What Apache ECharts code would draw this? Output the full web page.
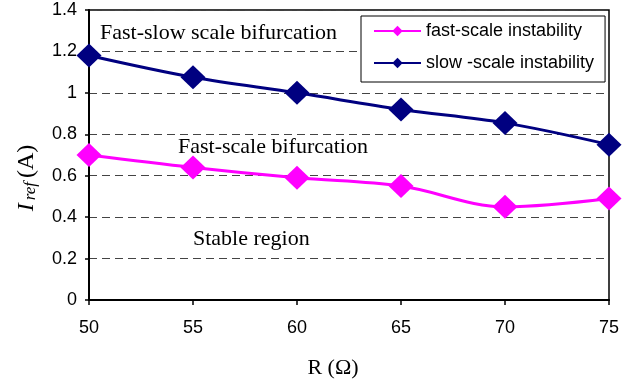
<!DOCTYPE html>
<html>
<head>
<meta charset="utf-8">
<script src="https://cdn.jsdelivr.net/npm/echarts@6/dist/echarts.min.js"></script>
<style>
  html, body { margin: 0; padding: 0; background: #fff; }
  #chart { width: 632px; height: 380px; }
</style>
</head>
<body>
<div id="chart"></div>
<script>
// Load resistance R (ohm) and the reference current thresholds (A)
const rOhm = [50, 55, 60, 65, 70, 75];
const fastScale = [0.70, 0.64, 0.59, 0.55, 0.45, 0.49];
const slowScale = [1.18, 1.075, 1.0, 0.92, 0.855, 0.75];
const seriesNames = ['fast-scale instability', 'slow -scale instability'];
const regionLabels = ['Fast-slow scale bifurcation', 'Fast-scale bifurcation', 'Stable region'];

const SANS = '"Liberation Sans", Arial, sans-serif';
const SERIF = '"Liberation Serif", "Times New Roman", serif';

function pairs(xs, ys) { return xs.map((x, i) => [x, ys[i]]); }

function lineSeries(name, values, color) {
  return {
    name: name,
    type: 'line',
    data: pairs(rOhm, values),
    smooth: 0.35,
    symbol: 'diamond',
    symbolSize: [25, 24],
    lineStyle: { color: color, width: 3 },
    itemStyle: { color: color },
    z: 3
  };
}

const chart = echarts.init(document.getElementById('chart'), null, { renderer: 'canvas' });

chart.setOption({
  animation: false,
  backgroundColor: '#fff',
  grid: {
    left: 89, right: 23, top: 10, bottom: 80,
    containLabel: false,
    outerBoundsMode: 'none',
    show: true, borderColor: '#000', borderWidth: 1.5, backgroundColor: 'transparent'
  },
  legend: {
    orient: 'vertical',
    left: 361, top: 16,
    padding: [6, 11, 10, 12],
    itemWidth: 47, itemHeight: 13, itemGap: 14,
    backgroundColor: '#fff', borderColor: '#000', borderWidth: 1, borderRadius: 0,
    textStyle: { fontFamily: SANS, fontSize: 18, color: '#000' },
    data: seriesNames
  },
  xAxis: {
    type: 'value',
    min: 50, max: 75, interval: 5,
    name: 'R (\u03A9)',
    nameLocation: 'middle',
    nameGap: 57,
    nameTextStyle: { fontFamily: SERIF, fontSize: 22, color: '#000', padding: [0, 32, 0, 0] },
    axisLine: { show: true, lineStyle: { color: '#000', width: 2 } },
    axisTick: { show: true, inside: false, length: 5, lineStyle: { color: '#000', width: 1.5 } },
    axisLabel: { fontFamily: SANS, fontSize: 18, color: '#000', margin: 19 },
    splitLine: { show: false }
  },
  yAxis: {
    type: 'value',
    min: 0, max: 1.4, interval: 0.2,
    name: '{i|I}{s|ref}{a|(A)}',
    nameLocation: 'middle',
    nameGap: 50,
    nameRotate: 90,
    nameTextStyle: {
      padding: [0, 46, 0, 0],
      rich: {
        i: { fontFamily: SERIF, fontStyle: 'italic', fontSize: 24, color: '#000', lineHeight: 28, padding: [0, 3, 0, 0], verticalAlign: 'bottom' },
        s: { fontFamily: SERIF, fontStyle: 'italic', fontSize: 17, color: '#000', lineHeight: 17, padding: [11, 4, 0, 0], verticalAlign: 'bottom' },
        a: { fontFamily: SERIF, fontSize: 24, color: '#000', lineHeight: 28, verticalAlign: 'bottom' }
      }
    },
    axisLine: { show: true, lineStyle: { color: '#000', width: 2 } },
    axisTick: { show: true, inside: false, length: 4, lineStyle: { color: '#000', width: 1.5 } },
    axisLabel: { fontFamily: SANS, fontSize: 18, color: '#000', margin: 12 },
    splitLine: { show: true, lineStyle: { color: '#444', width: 1, type: [8, 5] } }
  },
  graphic: [
    { type: 'text', left: 100, top: 22, z: 1,
      style: { text: regionLabels[0], font: '22px ' + SERIF, fill: '#000' } },
    { type: 'text', left: 178, top: 136, z: 1,
      style: { text: regionLabels[1], font: '22px ' + SERIF, fill: '#000' } },
    { type: 'text', left: 193, top: 228, z: 1,
      style: { text: regionLabels[2], font: '22px ' + SERIF, fill: '#000' } }
  ],
  series: [
    lineSeries(seriesNames[0], fastScale, '#FF00FF'),
    lineSeries(seriesNames[1], slowScale, '#000080')
  ]
});
</script>
</body>
</html>
